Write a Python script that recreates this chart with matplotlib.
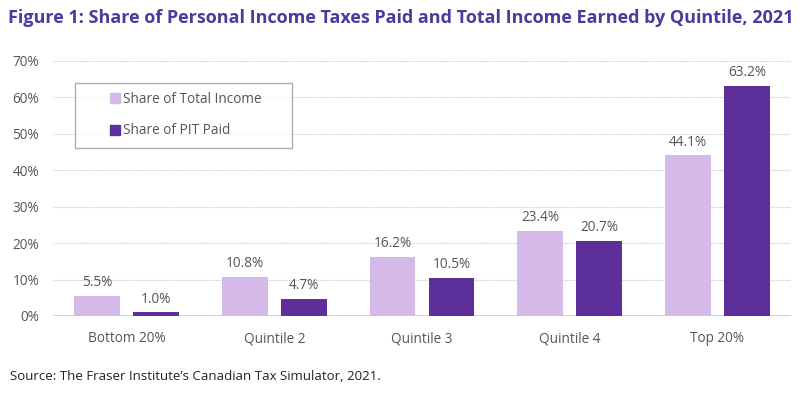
import matplotlib
matplotlib.use("Agg")
import matplotlib.pyplot as plt
from matplotlib.lines import Line2D
import numpy as np

categories = ["Bottom 20%", "Quintile 2", "Quintile 3", "Quintile 4", "Top 20%"]
income_share = [5.5, 10.8, 16.2, 23.4, 44.1]
pit_share = [1.0, 4.7, 10.5, 20.7, 63.2]
yticks = [0, 10, 20, 30, 40, 50, 60, 70]

light = "#d5b9e8"
dark = "#5c2f9b"
grey = "#555555"

plt.rcParams["font.family"] = ["Open Sans", "DejaVu Sans"]

fig = plt.figure(figsize=(8.05, 3.93), dpi=100)
ax = fig.add_axes([0.0658, 0.196, 0.917, 0.649])

x = np.arange(len(categories))
w = 0.31
off = 0.2
b1 = ax.bar(x - off, income_share, w, color=light, zorder=3)
b2 = ax.bar(x + off, pit_share, w, color=dark, zorder=3)

for bars, vals in ((b1, income_share), (b2, pit_share)):
    for r, v in zip(bars, vals):
        ax.text(r.get_x() + r.get_width() / 2, v + 1.5, f"{v:.1f}%",
                ha="center", va="bottom", fontsize=9.8, color=grey)

ax.set_xlim(-0.5, 4.5)
ax.set_ylim(0, 70)
ax.set_yticks(yticks)
ax.set_yticklabels([f"{t}%" for t in yticks], fontsize=9.8, color=grey)
ax.set_xticks(x)
ax.set_xticklabels(categories, fontsize=9.8, color=grey)
ax.tick_params(axis="x", length=0, pad=11)
ax.tick_params(axis="y", length=0, pad=10)
for t in yticks[1:]:
    ax.axhline(t, color="#c8c8c8", lw=0.8, ls=(0, (1, 1)), zorder=1)
ax.axhline(0, color="#cccccc", lw=1.2, zorder=2)
for s in ax.spines.values():
    s.set_visible(False)

# legend: small square markers indented inside a wide box
handles = [Line2D([], [], ls="none", marker="s", markersize=7, color=light),
           Line2D([], [], ls="none", marker="s", markersize=7, color=dark)]
labels = ["Share of Total Income", "Share of PIT Paid"]
leg = ax.legend(handles, labels, loc="upper left",
                bbox_to_anchor=(0.03, 0.815, 0.294, 0.1), mode="expand",
                fontsize=9.8, frameon=True, fancybox=False, edgecolor="#999999",
                handlelength=4.4, handletextpad=-1.6, labelspacing=1.2,
                borderpad=0.7, borderaxespad=0, numpoints=1)
leg.get_frame().set_linewidth(1.0)
for t in leg.get_texts():
    t.set_color(grey)

fig.text(0.01, 0.955, "Figure 1: Share of Personal Income Taxes Paid and Total Income Earned by Quintile, 2021",
         fontsize=13, fontweight="bold", color="#4a3c9c", ha="left", va="center")
fig.text(0.012, 0.043, "Source: The Fraser Institute\u2019s Canadian Tax Simulator, 2021.",
         fontsize=9.5, color="#222222", ha="left", va="center")

fig.savefig("out.png", dpi=100)
